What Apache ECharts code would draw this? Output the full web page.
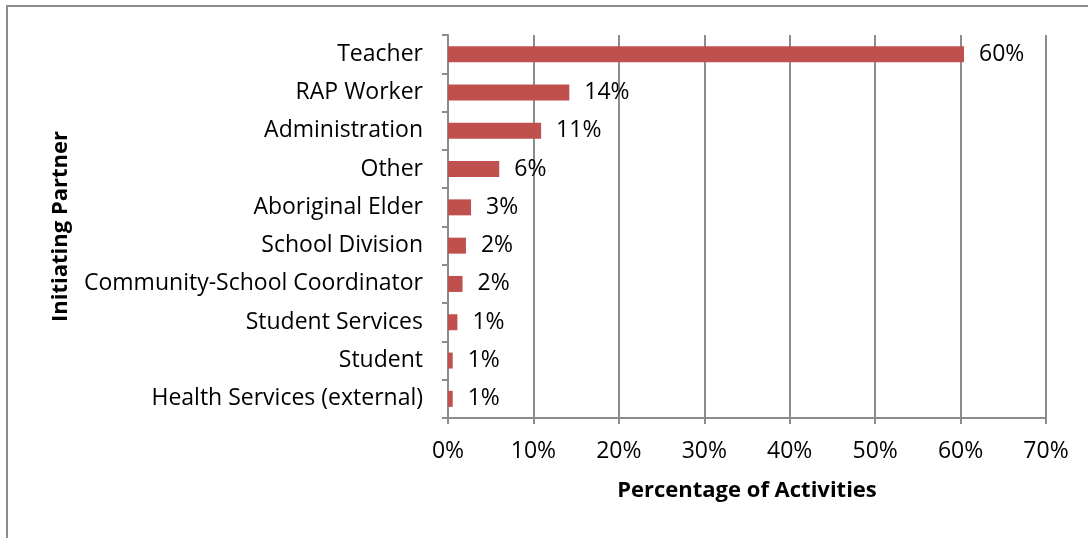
<!DOCTYPE html>
<html>
<head>
<meta charset="utf-8">
<script src="https://cdn.jsdelivr.net/npm/echarts@6/dist/echarts.min.js"></script>
<style>
  html,body{margin:0;padding:0;background:#fff;}
  #chart{width:1088px;height:538px;}
</style>
</head>
<body>
<div id="chart"></div>
<script>
// initiating partner -> share of activities (percent), top to bottom as drawn
var partners = ["Teacher", "RAP Worker", "Administration", "Other", "Aboriginal Elder",
    "School Division", "Community-School Coordinator", "Student Services", "Student",
    "Health Services (external)"];
var shares = [60.4, 14.2, 10.9, 6.0, 2.7, 2.1, 1.7, 1.1, 0.55, 0.55];
var xTicks = [0, 10, 20, 30, 40, 50, 60, 70];

var font = "Open Sans";
var grey = "#8c8c8c";

var chart = echarts.init(document.getElementById('chart'));

var option = {
    animation: false,
    textStyle: {fontFamily: font},
    graphic: [{
        type: 'rect',
        shape: {x: 7, y: 6, width: 1100, height: 560},
        style: {fill: 'none', stroke: grey, lineWidth: 2}
    }],
    grid: {left: 448, right: 42, top: 35, bottom: 120},
    xAxis: {
        type: 'value',
        min: xTicks[0],
        max: xTicks[xTicks.length - 1],
        interval: 10,
        name: 'Percentage of Activities',
        nameLocation: 'middle',
        nameGap: 62,
        nameTextStyle: {fontSize: 22, fontWeight: 'bold', color: '#000', fontFamily: font},
        axisLine: {show: true, lineStyle: {color: grey, width: 2}},
        axisTick: {show: true, length: 6, lineStyle: {color: grey, width: 2}},
        axisLabel: {fontSize: 23, color: '#000', margin: 22, formatter: '{value}%'},
        splitLine: {show: true, lineStyle: {color: grey, width: 2}}
    },
    yAxis: {
        type: 'category',
        inverse: true,
        data: partners,
        name: 'Initiating Partner',
        nameLocation: 'middle',
        nameGap: 376,
        nameRotate: 90,
        nameTextStyle: {fontSize: 22, fontWeight: 'bold', color: '#000', fontFamily: font},
        axisLine: {show: true, lineStyle: {color: grey, width: 2}},
        axisTick: {show: true, length: 6, lineStyle: {color: grey, width: 2}},
        axisLabel: {fontSize: 23, color: '#000', margin: 25, padding: [3, 0, 0, 0]},
        splitLine: {show: false}
    },
    series: [{
        type: 'bar',
        data: shares,
        barWidth: 16,
        itemStyle: {color: '#C0504D'},
        label: {
            show: true,
            position: 'right',
            distance: 15,
            fontSize: 23,
            color: '#000',
            padding: [3, 0, 0, 0],
            formatter: function (p) { return Math.max(1, Math.round(p.value)) + '%'; }
        }
    }]
};

chart.setOption(option);
</script>
</body>
</html>
